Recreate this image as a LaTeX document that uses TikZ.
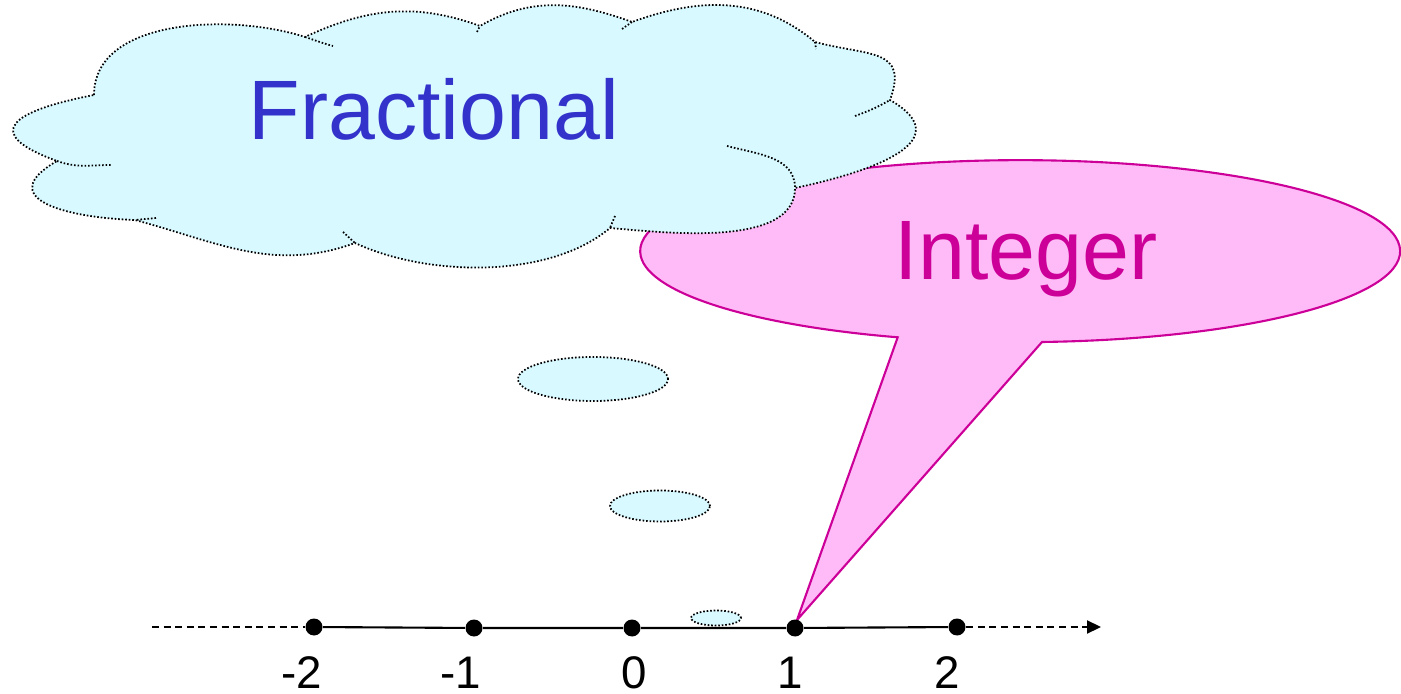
\documentclass[tikz,border=0pt]{standalone}
\usepackage{fontspec}
\setmainfont{Liberation Sans}
\usepackage{xcolor}
\usetikzlibrary{positioning,arrows.meta}
\definecolor{cloudfill}{RGB}{215,249,255}
\definecolor{bubblefill}{RGB}{255,187,247}
\definecolor{bubbleline}{RGB}{204,0,153}
\definecolor{fracblue}{RGB}{51,51,204}

\begin{document}
\begin{tikzpicture}[
    cloudline/.style={draw=black, line width=0.5pt, dash pattern=on 0.45pt off 0.55pt},
    numdot/.style={circle, fill=black, inner sep=0pt, minimum size=0.17cm},
    numlab/.style={font=\fontsize{13}{15}\selectfont, anchor=base},
    axisdash/.style={line width=0.6pt, dash pattern=on 2pt off 1.3pt},
    bigword/.style={font=\fontsize{24}{28}\selectfont, anchor=base}
  ]
    \useasboundingbox (0,0) rectangle (14.01,6.93);
    % speech bubble pointing at 1
    \draw[bubbleline, fill=bubblefill, line width=0.6pt]
      (7.97,0.73) -- (10.42,3.51)
      arc[start angle=-86.7, end angle=251.2, x radius=3.8, y radius=0.91] -- cycle;
    % thought cloud
    \draw[cloudline, fill=cloudfill]
      (0.94,5.98) to[out=90,in=162,looseness=0.9] (3.05,6.56)
      to[out=25,in=160] (4.80,6.67)
      to[out=30,in=160] (6.32,6.71)
      to[out=20,in=140] (8.15,6.51)
      to[out=-15,in=70,looseness=1.5] (8.90,5.93)
      to[out=-30,in=12,looseness=1.6] (7.95,5.05)
      to[out=-90,in=-5,looseness=0.8] (6.10,4.65)
      to[out=-140,in=-25,looseness=0.8] (3.55,4.50)
      to[out=200,in=-15] (1.35,4.73)
      to[out=178,in=210,looseness=1.9] (0.57,5.32)
      to[out=160,in=-169,looseness=2.8] cycle;
    \draw[cloudline] (3.05,6.56) to[out=-18,in=165] (3.33,6.47);
    \draw[cloudline] (4.77,6.61) -- (4.80,6.67);
    \draw[cloudline] (6.22,6.64) -- (6.32,6.71);
    \draw[cloudline] (8.15,6.51) -- (8.16,6.44);
    \draw[cloudline] (8.55,5.77) to[out=20,in=-150] (8.90,5.93);
    \draw[cloudline] (7.27,5.47) to[out=-15,in=90] (7.95,5.05);
    \draw[cloudline] (6.15,4.77) -- (6.10,4.65);
    \draw[cloudline] (3.43,4.61) -- (3.55,4.50);
    \draw[cloudline] (1.56,4.75) -- (1.35,4.73);
    \draw[cloudline] (0.57,5.32) to[out=-20,in=180] (1.11,5.28);
    % little puffs
    \draw[cloudline, fill=cloudfill] (5.93,3.14) ellipse[x radius=0.75, y radius=0.22];
    \draw[cloudline, fill=cloudfill] (6.60,1.87) ellipse[x radius=0.50, y radius=0.155];
    \draw[cloudline, fill=cloudfill] (7.16,0.75) ellipse[x radius=0.25, y radius=0.075];
    \node[bigword, text=fracblue] (frac) at (4.34,5.53) {Fractional};
    \node[bigword, text=bubbleline] (intg) at (10.26,4.13) {Integer};
    % number line
    \node[numdot] (m2) at (3.14,0.66) {};
    \node[numdot] (m1) at (4.74,0.65) {};
    \node[numdot] (z0) at (6.32,0.65) {};
    \node[numdot] (p1) at (7.95,0.65) {};
    \node[numdot] (p2) at (9.57,0.66) {};
    \coordinate (lft) at (1.52,0.66);
    \coordinate (rgt) at (11.01,0.66);
    \draw[line width=0.6pt] (m2) -- (m1) -- (z0) -- (p1) -- (p2);
    \draw[axisdash] (lft) -- (m2);
    \draw[axisdash, -{Triangle[length=1.4mm,width=1.3mm]}] (p2) -- (rgt);
    \node[numlab] (lm2) at (3.02,0.05) {-2};
    \node[numlab] (lm1) at (4.61,0.05) {-1};
    \node[numlab] (lz0) at (6.34,0.05) {0};
    \node[numlab] (lp1) at (7.90,0.05) {1};
    \node[numlab] (lp2) at (9.47,0.05) {2};
\end{tikzpicture}
\end{document}
